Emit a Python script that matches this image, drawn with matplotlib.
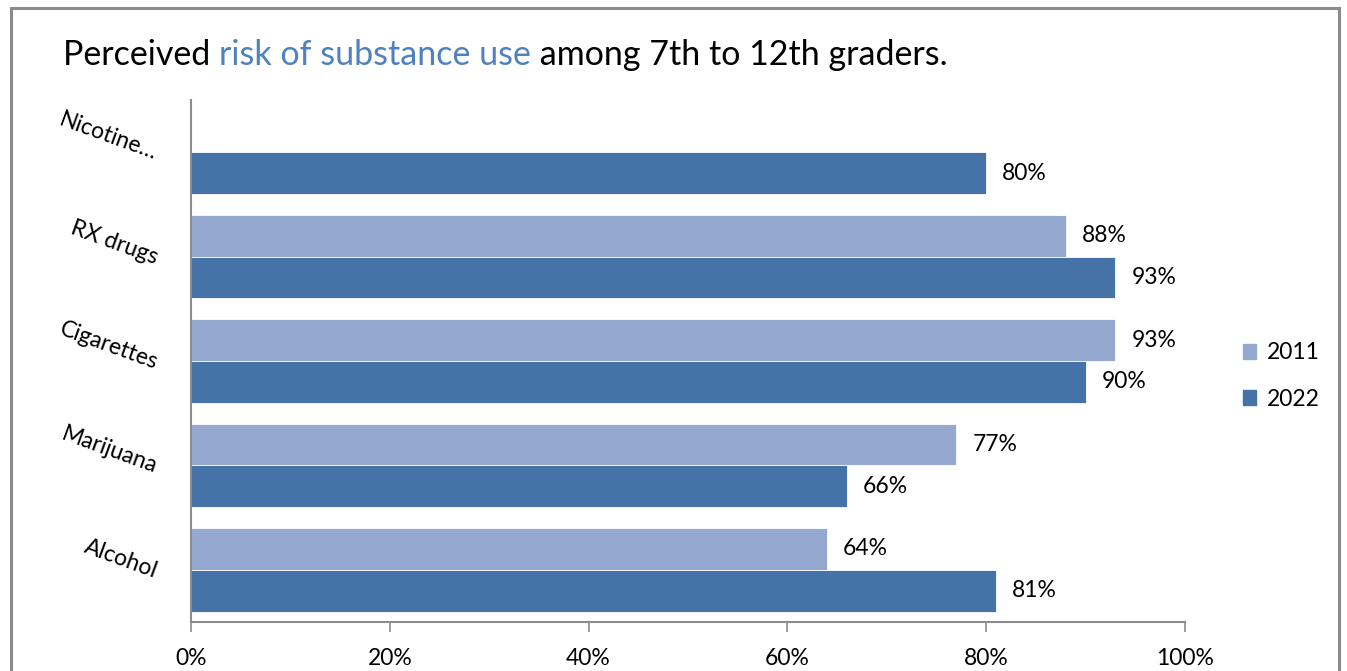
import matplotlib
matplotlib.use("Agg")
import matplotlib.pyplot as plt
from matplotlib.patches import Rectangle, Patch
import numpy as np

plt.rcParams['font.family'] = ['Lato', 'DejaVu Sans']

categories = ["Alcohol", "Marijuana", "Cigarettes", "RX drugs", "Nicotine\u2026"]
years = ["2011", "2022"]
values_2011 = [64, 77, 93, 88, None]
values_2022 = [81, 66, 90, 93, 80]
xticks = [0, 20, 40, 60, 80, 100]

color_2011 = "#95A9D0"
color_2022 = "#4573A7"
fs = 16.5

W, H = 1347, 671
fig = plt.figure(figsize=(W / 100, H / 100), dpi=100)

# outer frame
fig.patches.append(Rectangle((11 / W, -0.1), (1339 - 11) / W, 1.1 - 8 / H,
                             transform=fig.transFigure, fill=False,
                             edgecolor="#8C8C8C", linewidth=2.2))

ax = fig.add_axes([191 / W, (H - 622) / H, (1185 - 191) / W, (622 - 100) / H])

y = np.arange(len(categories))
h = 0.4
for i, (v1, v2) in enumerate(zip(values_2011, values_2022)):
    if v1 is not None:
        ax.barh(y[i] + h / 2, v1, height=h, color=color_2011,
                edgecolor="white", linewidth=0.6)
        ax.text(v1 + 1.6, y[i] + h / 2, f"{v1}%", va="center", ha="left",
                fontsize=fs, color="black")
    if v2 is not None:
        ax.barh(y[i] - h / 2, v2, height=h, color=color_2022,
                edgecolor="white", linewidth=0.6)
        ax.text(v2 + 1.6, y[i] - h / 2, f"{v2}%", va="center", ha="left",
                fontsize=fs, color="black")

ax.set_xlim(0, 100)
ax.set_ylim(-0.5, len(categories) - 0.5)
ax.set_xticks(xticks)
ax.set_xticklabels([f"{t}%" for t in xticks], fontsize=fs)
ax.set_yticks(y)
ax.set_yticklabels(categories, fontsize=fs, rotation=-20,
                   ha="right", rotation_mode="anchor")
ax.tick_params(axis="y", length=0, pad=24)
ax.tick_params(axis="x", length=7, width=1.2, color="#8C8C8C", pad=12,
               direction="out")
for s in ["top", "right"]:
    ax.spines[s].set_visible(False)
for s in ["left", "bottom"]:
    ax.spines[s].set_color("#8C8C8C")
    ax.spines[s].set_linewidth(1.5)

# legend
handles = [Patch(color=color_2011, label=years[0]),
           Patch(color=color_2022, label=years[1])]
fig.legend(handles=handles, loc="center left",
           bbox_to_anchor=(1222 / W, (H - 376) / H), frameon=False,
           fontsize=fs, handlelength=0.6, handleheight=0.6,
           handletextpad=0.45, labelspacing=1.1)

# title with a highlighted phrase
t1 = fig.text(63 / W, (H - 65) / H, "Perceived ", fontsize=24.5,
              color="black", va="baseline")
t2 = ax.annotate("risk of substance use", xy=(1, 0), xycoords=t1,
                 fontsize=24.5, color="#4F81BD", va="bottom",
                 annotation_clip=False)
t3 = ax.annotate(" among 7th to 12th graders.", xy=(1, 0), xycoords=t2,
                 fontsize=24.5, color="black", va="bottom",
                 annotation_clip=False)

fig.savefig("out.png", dpi=100)
